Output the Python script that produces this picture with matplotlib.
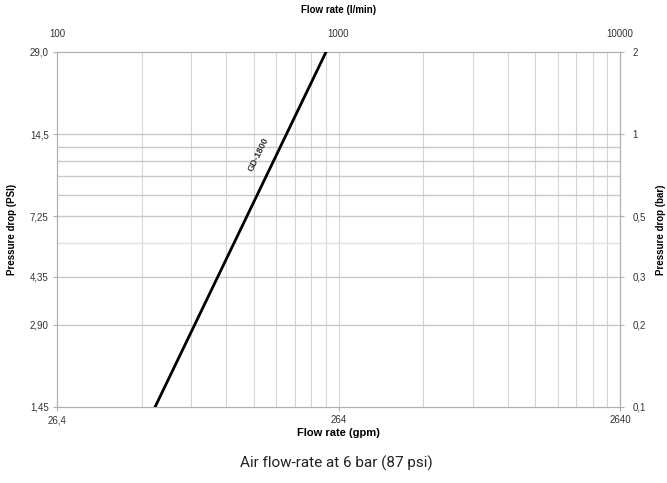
import numpy as np
import matplotlib
matplotlib.use("Agg")
import matplotlib.pyplot as plt
from matplotlib.ticker import FixedLocator, NullFormatter, NullLocator

# data
flow_lmin = [223, 903]          # l/min
pressure_bar = [0.1, 2.0]       # bar
series_label = "GD-1800"

bar_ticks = [0.1, 0.2, 0.3, 0.5, 1, 2]
bar_labels = ["0,1", "0,2", "0,3", "0,5", "1", "2"]
psi_labels = ["1,45", "2,90", "4,35", "7,25", "14,5", "29,0"]
lmin_ticks = [100, 1000, 10000]
lmin_labels = ["100", "1000", "10000"]
gpm_labels = ["26,4", "264", "2640"]
hgrid = [0.2, 0.3, 0.4, 0.5, 0.6, 0.7, 0.8, 0.9, 1.0]

plt.rcParams['font.family'] = ['Liberation Sans', 'DejaVu Sans']

fig = plt.figure(figsize=(6.67, 4.83), dpi=100)
ax = fig.add_axes([0.0855, 0.1574, 0.844, 0.735])

ax.plot(flow_lmin, pressure_bar, color='black', lw=2.0, zorder=5)
ax.set_xscale('log')
ax.set_yscale('log')
ax.set_xlim(100, 10000)
ax.set_ylim(0.1, 2)

# grid
vgrid = [m * 10 ** d for d in (2, 3) for m in range(2, 10)] + [1000]
for v in vgrid:
    ax.axvline(v, color='#d6d6d6', lw=0.8, zorder=1)
for h in hgrid:
    c = '#e2e2e2' if h == 0.4 else '#c8c8c8'
    ax.axhline(h, color=c, lw=1.0, zorder=1)

for s in ax.spines.values():
    s.set_color('#b0b0b0')
    s.set_linewidth(0.9)

tick_kw = dict(labelsize=7, labelcolor='#333333', length=3, color='#b0b0b0', width=0.8)

# left (psi) / bottom (gpm)
ax.yaxis.set_major_locator(FixedLocator(bar_ticks))
ax.yaxis.set_minor_locator(NullLocator())
ax.set_yticklabels(psi_labels)
ax.xaxis.set_major_locator(FixedLocator(lmin_ticks))
ax.xaxis.set_minor_locator(NullLocator())
ax.set_xticklabels(gpm_labels)
ax.tick_params(axis='both', direction='out', pad=3, **tick_kw)
ax.set_ylabel("Pressure drop (PSI)", fontsize=7, fontweight='bold', labelpad=9)
ax.set_xlabel("Flow rate (gpm)", fontsize=8, fontweight='bold', labelpad=2)

# right (bar)
axr = ax.twinx()
axr.set_yscale('log')
axr.set_ylim(0.1, 2)
axr.yaxis.set_major_locator(FixedLocator(bar_ticks))
axr.yaxis.set_minor_locator(NullLocator())
axr.set_yticklabels(bar_labels)
axr.tick_params(axis='y', direction='out', pad=6, **tick_kw)
axr.set_ylabel("Pressure drop (bar)", fontsize=7, fontweight='bold', labelpad=7)
for s in axr.spines.values():
    s.set_visible(False)

# top (l/min)
axt = ax.twiny()
axt.set_xscale('log')
axt.set_xlim(100, 10000)
axt.xaxis.set_major_locator(FixedLocator(lmin_ticks))
axt.xaxis.set_minor_locator(NullLocator())
axt.xaxis.set_minor_formatter(NullFormatter())
axt.set_xticklabels(lmin_labels)
axt.tick_params(axis='x', direction='out', length=0, pad=9, labelsize=7, labelcolor='#333333')
axt.set_xlabel("Flow rate (l/min)", fontsize=7, fontweight='bold', labelpad=12)
for s in axt.spines.values():
    s.set_visible(False)

# series label along the line
ax.text(518, 0.84, series_label, rotation=64, fontsize=6.5, fontweight='bold',
        color='#333333', ha='center', va='center', zorder=6)

fig.text(0.505, 0.041, "Air flow-rate at 6 bar (87 psi)", ha='center', va='center',
         fontsize=11, family=['Roboto', 'DejaVu Sans'], color='#222222')

fig.savefig("out.png", dpi=100)
